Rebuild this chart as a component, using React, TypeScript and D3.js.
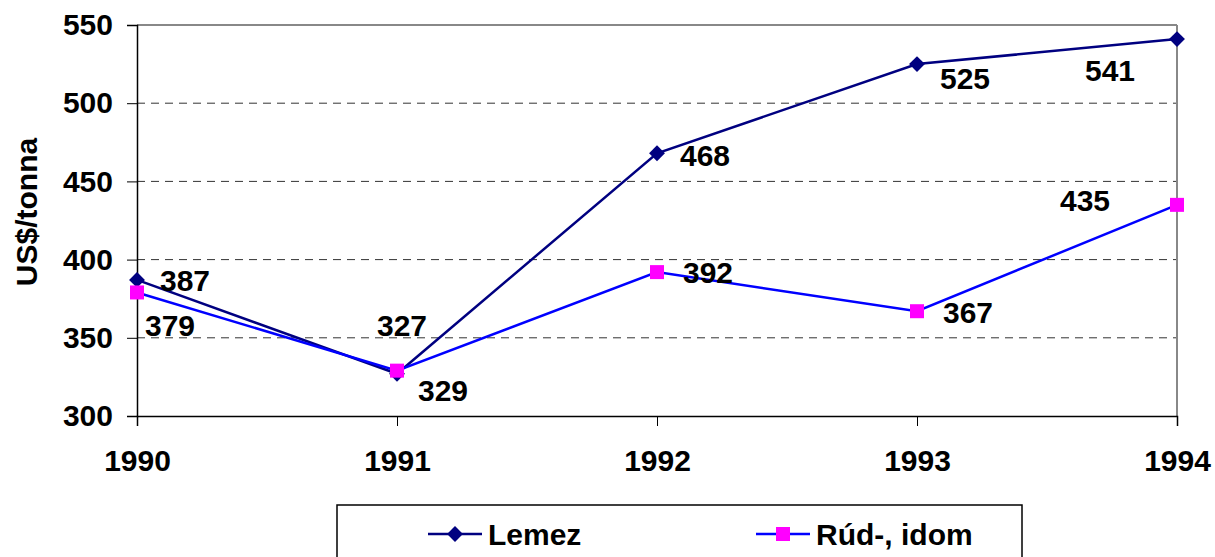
import React, { useEffect, useRef } from 'react';
import * as d3 from 'd3';

const years = ['1990', '1991', '1992', '1993', '1994'];
const lemez = [387, 327, 468, 525, 541];
const rud = [379, 329, 392, 367, 435];
const yTicks = [300, 350, 400, 450, 500, 550];

// label offsets from the point (px), hand-placed like the original
const lemezLabelOff = [[23, 11], [-20, -38], [23, 13], [23, 25], [-92, 42]];
const rudLabelOff = [[8, 44], [21, 30], [26, 11], [26, 12], [-117, 6]];

const W = 1215;
const H = 557;
const FONT = '"Liberation Sans", Arial, sans-serif';
const FS = '30px';

const App = () => {
  const svgRef = useRef<SVGSVGElement>(null);

  useEffect(() => {
    const svg = d3.select(svgRef.current);
    svg.selectAll('*').remove();

    const left = 137, right = 1177, top = 25, bottom = 416;

    const x = d3.scalePoint().domain(years).range([left, right]);
    const y = d3.scaleLinear().domain([300, 550]).range([bottom, top]);

    // grid
    svg.append('g')
      .selectAll('line')
      .data(yTicks.filter(t => t > 300 && t < 550))
      .enter().append('line')
      .attr('x1', left).attr('x2', right)
      .attr('y1', d => y(d)).attr('y2', d => y(d))
      .attr('stroke', '#333')
      .attr('stroke-width', 1)
      .attr('stroke-dasharray', '8,6');

    // frame top / right
    svg.append('line')
      .attr('x1', left).attr('x2', right).attr('y1', y(550)).attr('y2', y(550))
      .attr('stroke', '#888').attr('stroke-width', 2);
    svg.append('line')
      .attr('x1', right).attr('x2', right).attr('y1', top).attr('y2', bottom)
      .attr('stroke', '#888').attr('stroke-width', 2);

    const textStyle = (sel: any) => sel
      .style('font-family', FONT).style('font-size', FS).style('font-weight', 'bold')
      .attr('fill', '#000');

    // y axis
    const yAxis = svg.append('g')
      .attr('transform', `translate(${left},0)`)
      .call(d3.axisLeft(y).tickValues(yTicks).tickSize(10).tickPadding(14));
    yAxis.select('.domain').attr('stroke', '#000').attr('stroke-width', 1.5);
    yAxis.selectAll('.tick line').attr('stroke', '#000').attr('stroke-width', 1);
    yAxis.selectAll('text').call(textStyle);

    // x axis
    const xAxis = svg.append('g')
      .attr('transform', `translate(0,${bottom})`)
      .call(d3.axisBottom(x).tickSize(10).tickPadding(24));
    xAxis.select('.domain').attr('stroke', '#000').attr('stroke-width', 1.5);
    xAxis.selectAll('.tick line').attr('stroke', '#000').attr('stroke-width', 1);
    xAxis.selectAll('text').call(textStyle);

    // y title
    svg.append('text')
      .attr('transform', `translate(37,212) rotate(-90)`)
      .attr('text-anchor', 'middle')
      .text('US$/tonna')
      .call(textStyle);

    const line = d3.line<number>()
      .x((d, i) => x(years[i]) as number)
      .y(d => y(d));

    svg.append('path').datum(lemez).attr('d', line)
      .attr('fill', 'none').attr('stroke', '#000080').attr('stroke-width', 2.5);
    svg.append('path').datum(rud).attr('d', line)
      .attr('fill', 'none').attr('stroke', '#0000ff').attr('stroke-width', 2.5);

    const diamond = d3.symbol().type(d3.symbolDiamond2).size(160);

    svg.append('g').selectAll('path')
      .data(lemez)
      .enter().append('path')
      .attr('d', diamond)
      .attr('transform', (d, i) => `translate(${x(years[i])},${y(d)})`)
      .attr('fill', '#000080');

    svg.append('g').selectAll('rect')
      .data(rud)
      .enter().append('rect')
      .attr('x', (d, i) => (x(years[i]) as number) - 7)
      .attr('y', d => y(d) - 7)
      .attr('width', 14).attr('height', 14)
      .attr('fill', '#ff00ff');

    svg.append('g').selectAll('text')
      .data(lemez)
      .enter().append('text')
      .attr('x', (d, i) => (x(years[i]) as number) + lemezLabelOff[i][0])
      .attr('y', (d, i) => y(d) + lemezLabelOff[i][1])
      .text(d => d)
      .call(textStyle);

    svg.append('g').selectAll('text')
      .data(rud)
      .enter().append('text')
      .attr('x', (d, i) => (x(years[i]) as number) + rudLabelOff[i][0])
      .attr('y', (d, i) => y(d) + rudLabelOff[i][1])
      .text(d => d)
      .call(textStyle);

    // legend
    const lg = svg.append('g');
    lg.append('rect')
      .attr('x', 337).attr('y', 505).attr('width', 685).attr('height', 70)
      .attr('fill', '#fff').attr('stroke', '#000').attr('stroke-width', 1.5);

    const items = [
      { name: 'Lemez', color: '#000080', x: 428, marker: 'diamond' },
      { name: 'Rúd-, idom', color: '#0000ff', x: 756, marker: 'square' }
    ];
    items.forEach(it => {
      const cy = 534;
      lg.append('line')
        .attr('x1', it.x).attr('x2', it.x + 54).attr('y1', cy).attr('y2', cy)
        .attr('stroke', it.color).attr('stroke-width', 2.5);
      if (it.marker === 'diamond') {
        lg.append('path').attr('d', diamond)
          .attr('transform', `translate(${it.x + 27},${cy})`)
          .attr('fill', '#000080');
      } else {
        lg.append('rect')
          .attr('x', it.x + 20).attr('y', cy - 7).attr('width', 14).attr('height', 14)
          .attr('fill', '#ff00ff');
      }
      lg.append('text')
        .attr('x', it.x + 60).attr('y', cy + 11)
        .text(it.name)
        .call(textStyle);
    });
  }, []);

  return (
    <svg ref={svgRef} width={W} height={H}
      style={{ position: 'absolute', left: 0, top: 0, background: '#fff' }} />
  );
};

export default App;
